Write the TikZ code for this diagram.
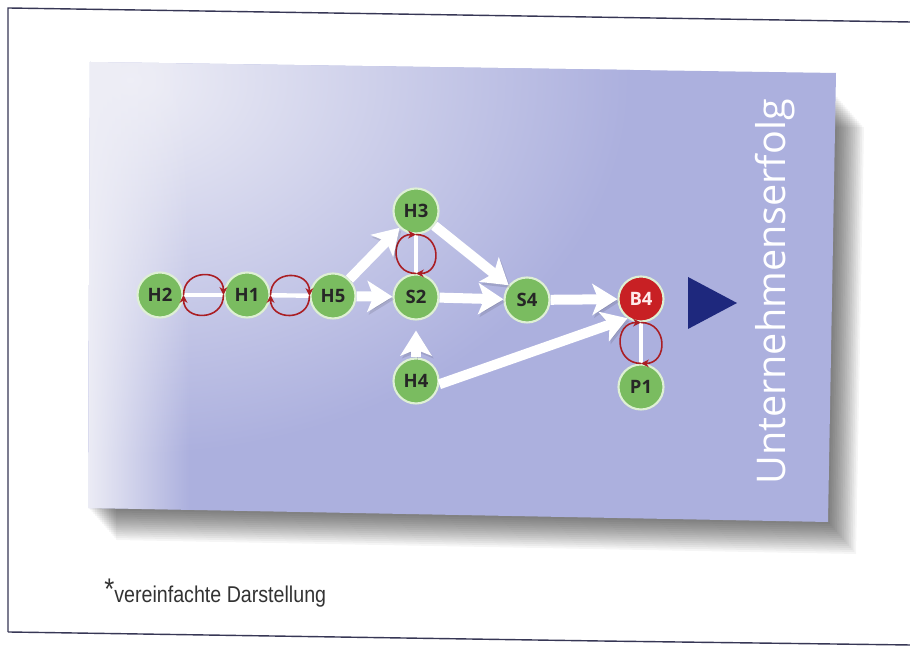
\documentclass[tikz,border=0pt]{standalone}
\usepackage{fontspec}
\setsansfont{Open Sans}
\newfontfamily\fussfont{Liberation Sans}
\usepackage{tikz}
\usetikzlibrary{arrows.meta, fadings}

\definecolor{panelblau}{RGB}{172,176,222}
\definecolor{panelhell}{RGB}{238,238,246}
\definecolor{knotgruen}{RGB}{122,188,96}
\definecolor{knotrand}{RGB}{222,240,212}
\definecolor{knotrot}{RGB}{200,32,36}
\definecolor{kreisrot}{RGB}{170,30,35}
\definecolor{zielblau}{RGB}{30,40,125}
\definecolor{rahmen}{RGB}{55,55,85}

\tikzset{
  knoten/.style={circle, fill=knotgruen, draw=knotrand, line width=1.2pt,
    minimum size=0.9cm, inner sep=0pt,
    font=\sffamily\bfseries\fontsize{10.5}{12}\selectfont, text=black!85},
  rotknoten/.style={knoten, fill=knotrot, text=red!8},
  pfeil/.style={draw=white, line width=0.2cm,
    -{Stealth[length=0.5cm, width=0.62cm, inset=0.12cm]},
    preaction={draw=black, opacity=0.1, transform canvas={xshift=1pt, yshift=-1.5pt}}},
  steg/.style={draw=white, line width=2.5pt},
  kreislauf/.style={draw=kreisrot, line width=0.9pt, -{Stealth[length=4.5pt, width=4.5pt]}},
}

\begin{document}
\begin{tikzpicture}
\useasboundingbox (0,0) rectangle (18.2,13);
\fill[white] (0,0) rectangle (18.2,13);

% Seitenrahmen
\draw[rahmen, line width=0.8pt] (0.16,0.36) -- (0.16,12.84) -- (18.2,12.56);
\draw[rahmen, line width=0.8pt] (0.16,0.36) -- (12,0.18) -- (18.2,0.1);

% Schatten unter der Tafel
\foreach \i in {1,...,16}
  \fill[black, opacity=0.04, shift={(0.035*\i,-0.04*\i)}]
    (1.8,11.3) -- (16.72,11.1) -- (16.56,2.56) -- (1.76,2.84) -- cycle;

% Tafel mit Verlauf
\begin{scope}
\clip (1.8,11.76) -- (16.72,11.54) -- (16.56,2.56) -- (1.76,2.84) -- cycle;
\fill[panelblau] (1.7,2.4) rectangle (16.8,11.8);
\shade[inner color=panelhell, outer color=panelblau] (2.6,11.4) ellipse (10 and 7.5);
\fill[panelhell, path fading=east] (1.7,2.4) rectangle (3.8,12);
\end{scope}

% Knoten
\node[knoten] (H2) at (3.2,7.1) {H2};
\node[knoten] (H1) at (4.94,7.1) {H1};
\node[knoten] (H5) at (6.66,7.08) {H5};
\node[knoten] (H3) at (8.32,8.78) {H3};
\node[knoten] (S2) at (8.32,7.06) {S2};
\node[knoten] (H4) at (8.32,5.38) {H4};
\node[knoten] (S4) at (10.54,7.0) {S4};
\node[rotknoten] (B4) at (12.82,7.02) {B4};
\node[knoten] (P1) at (12.82,5.26) {P1};

% Stege
\draw[steg] (H2) -- (H1);
\draw[steg] (H1) -- (H5);
\draw[steg] (H3) -- (S2);
\draw[steg] (B4) -- (P1);

% Wechselwirkungen
\draw[kreislauf] (H2.east) to[out=90,in=90,looseness=1.7] (H1.west);
\draw[kreislauf] (H1.west) to[out=-90,in=-90,looseness=1.7] (H2.east);
\draw[kreislauf] (H1.east) to[out=90,in=90,looseness=1.7] (H5.west);
\draw[kreislauf] (H5.west) to[out=-90,in=-90,looseness=1.7] (H1.east);
\draw[kreislauf] (S2.north) to[out=180,in=180,looseness=1.7] (H3.south);
\draw[kreislauf] (H3.south) to[out=0,in=0,looseness=1.7] (S2.north);
\draw[kreislauf] (P1.north) to[out=180,in=180,looseness=1.7] (B4.south);
\draw[kreislauf] (B4.south) to[out=0,in=0,looseness=1.7] (P1.north);

% Wirkungspfeile
\draw[pfeil] (H5) -- (S2);
\draw[pfeil] (H5) -- (H3);
\draw[pfeil] (H3) -- (S4);
\draw[pfeil] (S2) -- (S4);
\draw[pfeil, shorten >=0.2cm] (H4) -- (S2);
\draw[pfeil] (S4) -- (B4);
\draw[pfeil] (H4.-8) -- (B4.235);

% Ziel
\fill[zielblau] (13.76,7.46) -- (14.74,6.94) -- (13.76,6.42) -- cycle;
\node[rotate=90, text=white, font=\sffamily\fontsize{22.5}{26}\selectfont] (titel) at (15.5,7.16) {Unternehmenserfolg};

% Fussnote
\node[anchor=base west, inner sep=0pt, text=black!80, xscale=0.86,
  font=\fussfont\fontsize{13}{15}\selectfont] (fuss) at (2.08,0.94)
  {\raisebox{0.3ex}{\fontsize{17}{17}\selectfont*}vereinfachte Darstellung};
\end{tikzpicture}
\end{document}
